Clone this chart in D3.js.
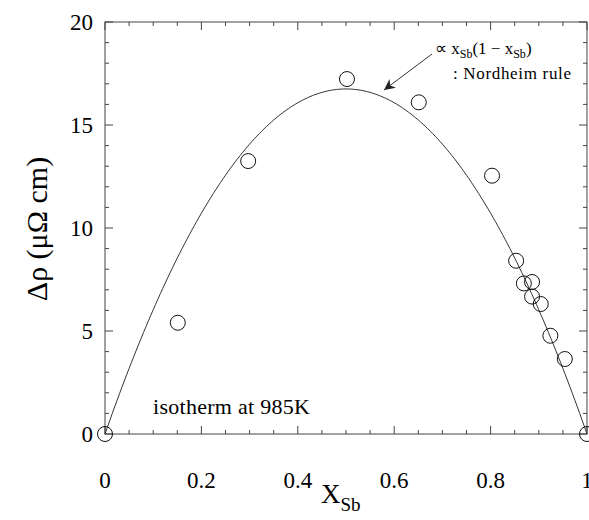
<!DOCTYPE html>
<html>
<head>
<meta charset="utf-8">
<script src="https://cdn.jsdelivr.net/npm/d3@7"></script>
</head>
<body style="margin:0">
<div id="chart"></div>
<script>
  // measured points
  var xSb = [0, 0.151, 0.297, 0.502, 0.651, 0.803, 0.853, 0.869, 0.886, 0.886, 0.904, 0.924, 0.954, 1];
  var dRho = [0, 5.40, 13.25, 17.23, 16.1, 12.54, 8.41, 7.31, 7.38, 6.67, 6.31, 4.77, 3.64, 0];
  // Nordheim fit: c * x (1 - x)
  var fitCoef = 67;
  var xTicks = [0, 0.2, 0.4, 0.6, 0.8, 1];
  var xTickLabels = ['0', '0.2', '0.4', '0.6', '0.8', '1'];
  var yTicks = [0, 5, 10, 15, 20];

  (function () {
    var w = 589, h = 520;
    var mL = 105, mR = 587, mT = 22, mB = 434;
    var serif = 'Liberation Serif';

    var svg = d3.select('#chart').append('svg')
      .attr('width', w).attr('height', h)
      .style('display', 'block');

    var x = d3.scaleLinear().domain([0, 1]).range([mL, mR]);
    var y = d3.scaleLinear().domain([0, 20]).range([mB, mT]);

    var frameColor = '#444';

    // ticks on all four sides, pointing inward
    var xMinor = d3.range(0, 1.0001, 0.05);
    var yMinor = d3.range(0, 20.001, 1);
    function isMajorX(v) { return Math.abs(v * 5 - Math.round(v * 5)) < 1e-6; }
    function isMajorY(v) { return Math.round(v) % 5 === 0; }

    var g = svg.append('g');
    xMinor.forEach(function (v) {
      var len = isMajorX(v) ? 8 : 4;
      g.append('line').attr('x1', x(v)).attr('x2', x(v))
        .attr('y1', mB).attr('y2', mB - len).attr('stroke', frameColor);
      g.append('line').attr('x1', x(v)).attr('x2', x(v))
        .attr('y1', mT).attr('y2', mT + len).attr('stroke', frameColor);
    });
    yMinor.forEach(function (v) {
      var len = isMajorY(v) ? 8 : 4;
      g.append('line').attr('x1', mL).attr('x2', mL + len)
        .attr('y1', y(v)).attr('y2', y(v)).attr('stroke', frameColor);
      g.append('line').attr('x1', mR).attr('x2', mR - len)
        .attr('y1', y(v)).attr('y2', y(v)).attr('stroke', frameColor);
    });

    svg.append('rect')
      .attr('x', mL).attr('y', mT)
      .attr('width', mR - mL).attr('height', mB - mT)
      .attr('fill', 'none').attr('stroke', frameColor).attr('stroke-width', 1);

    // tick labels
    svg.selectAll('text.xlab').data(xTicks).enter().append('text')
      .attr('class', 'xlab')
      .attr('font-family', serif)
      .attr('x', function (d) { return x(d); })
      .attr('y', 488)
      .attr('text-anchor', 'middle')
      .attr('font-size', 23)
      .text(function (d, i) { return xTickLabels[i]; });

    svg.selectAll('text.ylab').data(yTicks).enter().append('text')
      .attr('class', 'ylab')
      .attr('font-family', serif)
      .attr('x', 93)
      .attr('y', function (d) { return y(d) + 8; })
      .attr('text-anchor', 'end')
      .attr('font-size', 23)
      .text(function (d) { return d; });

    // axis titles
    var xt = svg.append('text')
      .attr('font-family', serif)
      .attr('x', 321).attr('y', 503)
      .attr('font-size', 27);
    xt.append('tspan').text('X');
    xt.append('tspan').attr('font-size', 19).attr('dy', 8).text('Sb');

    svg.append('text')
      .attr('font-family', serif)
      .attr('transform', 'translate(47,' + 229 + ') rotate(-90)')
      .attr('text-anchor', 'middle')
      .attr('font-size', 30)
      .text('Δρ (μΩ cm)');

    // fitted curve
    var curveX = d3.range(0, 1.0001, 0.005);
    var line = d3.line()
      .x(function (d) { return x(d); })
      .y(function (d) { return y(fitCoef * d * (1 - d)); });
    svg.append('path')
      .datum(curveX)
      .attr('d', line)
      .attr('fill', 'none')
      .attr('stroke', '#333')
      .attr('stroke-width', 1);

    // data circles
    svg.selectAll('circle.pt').data(xSb).enter().append('circle')
      .attr('class', 'pt')
      .attr('cx', function (d) { return x(d); })
      .attr('cy', function (d, i) { return y(dRho[i]); })
      .attr('r', 7.5)
      .attr('fill', 'none')
      .attr('stroke', '#111')
      .attr('stroke-width', 1);

    // label
    svg.append('text')
      .attr('font-family', serif)
      .attr('x', 153).attr('y', 414)
      .attr('font-size', 22)
      .attr('textLength', 157)
      .attr('lengthAdjust', 'spacing')
      .text('isotherm at 985K');

    // annotation
    var ann = svg.append('text')
      .attr('font-family', serif)
      .attr('x', 435).attr('y', 54)
      .attr('font-size', 17);
    ann.append('tspan').text('∝ x');
    ann.append('tspan').attr('font-size', 12).attr('dy', 4).text('Sb');
    ann.append('tspan').attr('dy', -4).text('(1 − x');
    ann.append('tspan').attr('font-size', 12).attr('dy', 4).text('Sb');
    ann.append('tspan').attr('dy', -4).text(')');

    svg.append('text')
      .attr('font-family', serif)
      .attr('x', 453).attr('y', 79)
      .attr('font-size', 17)
      .attr('textLength', 118)
      .attr('lengthAdjust', 'spacing')
      .text(': Nordheim rule');

    svg.append('defs').append('marker')
      .attr('id', 'arrow')
      .attr('viewBox', '0 0 10 10')
      .attr('refX', 10).attr('refY', 5)
      .attr('markerWidth', 11).attr('markerHeight', 11)
      .attr('markerUnits', 'userSpaceOnUse')
      .attr('orient', 'auto')
      .append('path')
      .attr('d', 'M0,0 L10,5 L0,10 L3,5 Z')
      .attr('fill', '#222');

    svg.append('line')
      .attr('x1', 432).attr('y1', 54)
      .attr('x2', 384).attr('y2', 90)
      .attr('stroke', '#333')
      .attr('stroke-width', 1)
      .attr('marker-end', 'url(#arrow)');
  })();
</script>
</body>
</html>
